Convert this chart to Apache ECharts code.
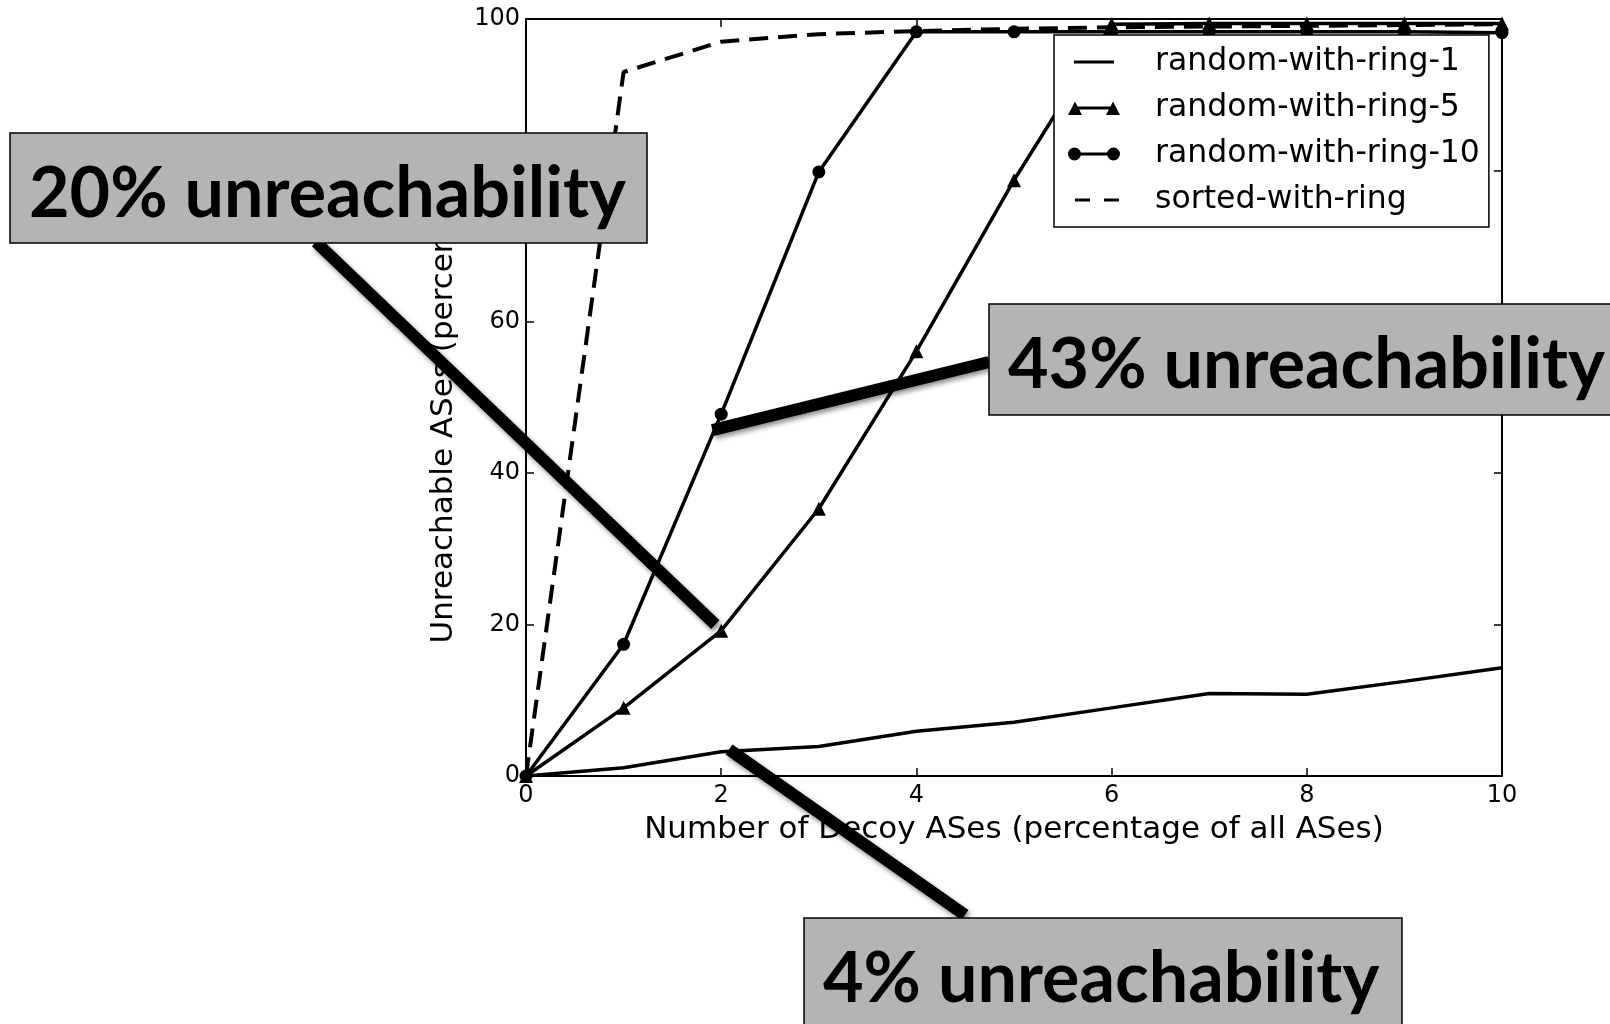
<!DOCTYPE html>
<html style="height: 100%">
<head>
    <meta charset="utf-8">
    <title>Unreachable ASes vs decoy ASes</title>
    <script type="text/javascript" src="https://cdn.jsdelivr.net/npm/echarts@6/dist/echarts.min.js"></script>
</head>
<body style="height: 100%; margin: 0; background: #fff">
    <div id="container" style="width: 1610px; height: 1024px"></div>
    <script type="text/javascript">
        // x: decoy ASes (percentage of all ASes)
        var decoyPct = [0, 1, 2, 3, 4, 5, 6, 7, 8, 9, 10];
        var ring1 = [0, 1.1, 3.2, 3.9, 5.9, 7.1, 9.0, 10.9, 10.8, 12.5, 14.3];
        var ring5 = [0, 9.0, 19.2, 35.3, 56.1, 78.7, 99.3, 99.4, 99.4, 99.4, 99.4];
        var ring10 = [0, 17.4, 47.8, 79.8, 98.3, 98.3, 98.3, 98.3, 98.3, 98.3, 98.2];
        var sortedRing = [0, 93.0, 97.0, 98.0, 98.4, 98.7, 98.9, 99.0, 99.1, 99.2, 99.3];
        var seriesNames = ['random-with-ring-1', 'random-with-ring-5', 'random-with-ring-10', 'sorted-with-ring'];

        // callouts: text, box, start of the pointer (pixels), end of the pointer (data)
        var callouts = [
            { text: '20% unreachability', box: [10, 133, 637, 110], from: [316, 242], to: [1.94, 20.0] },
            { text: '43% unreachability', box: [989, 304, 640, 111], from: [989, 362], to: [1.91, 45.7] },
            { text: '4% unreachability', box: [804, 918, 598, 120], from: [965, 915], to: [2.08, 3.5] }
        ];

        function pairs(ys) {
            return decoyPct.map(function (x, i) { return [x, ys[i]]; });
        }

        var font = '"DejaVu Sans", sans-serif';
        var dom = document.getElementById('container');
        var myChart = echarts.init(dom);

        var frameAxis = {
            axisLine: { show: true, onZero: false, lineStyle: { color: '#000', width: 2 } },
            axisTick: { show: true, inside: true, length: 8, lineStyle: { color: '#000', width: 1.5 } },
            splitLine: { show: false }
        };

        // legend icons, all 52x14 (corner specks keep the box size)
        var box = 'M0,0 L0.01,0 L0,0.01 Z M52,14 L51.99,14 L52,13.99 Z ';
        var icons = [
            'path://' + box + 'M6,5.5 L46,5.5 L46,8.5 L6,8.5 Z',
            'path://' + box + 'M6,5.5 L46,5.5 L46,8.5 L6,8.5 Z M0,14 L7,0.5 L14,14 Z M38,14 L45,0.5 L52,14 Z',
            'path://' + box + 'M6,5.5 L46,5.5 L46,8.5 L6,8.5 Z M0,7 A6.5,6.5 0 1 1 13,7 A6.5,6.5 0 1 1 0,7 Z M39,7 A6.5,6.5 0 1 1 52,7 A6.5,6.5 0 1 1 39,7 Z',
            'path://' + box + 'M7,5.5 L22,5.5 L22,8.5 L7,8.5 Z M36,5.5 L51,5.5 L51,8.5 L36,8.5 Z'
        ];

        var option = {
            animation: false,
            backgroundColor: '#fff',
            grid: { left: 526, right: 108, top: 19, bottom: 248, containLabel: false },
            legend: {
                orient: 'vertical',
                left: 1054,
                top: 35,
                padding: [11, 9, 11, 14],
                itemGap: 14,
                itemWidth: 52,
                itemHeight: 14,
                symbolKeepAspect: false,
                backgroundColor: '#fff',
                borderColor: '#000',
                borderWidth: 1.5,
                borderRadius: 0,
                itemStyle: { borderWidth: 0 },
                formatter: function (name) { return '   ' + name; },
                textStyle: { fontFamily: font, fontSize: 31.5, lineHeight: 31, color: '#000' },
                data: seriesNames.map(function (n, i) { return { name: n, icon: icons[i] }; })
            },
            xAxis: [
                Object.assign({
                    type: 'value', min: 0, max: 10, interval: 2,
                    name: 'Number of Decoy ASes (percentage of all ASes)',
                    nameLocation: 'middle', nameGap: 38,
                    nameTextStyle: { fontFamily: font, fontSize: 31, color: '#000' },
                    axisLabel: { fontFamily: font, fontSize: 24, color: '#000', margin: 8 }
                }, frameAxis),
                Object.assign({
                    type: 'value', min: 0, max: 10, interval: 2, position: 'top',
                    axisLabel: { show: false }
                }, frameAxis)
            ],
            yAxis: [
                Object.assign({
                    type: 'value', min: 0, max: 100, interval: 20,
                    name: 'Unreachable ASes (percentage)',
                    nameLocation: 'middle', nameGap: 67,
                    nameTextStyle: { fontFamily: font, fontSize: 31, color: '#000' },
                    axisLabel: { fontFamily: font, fontSize: 24, color: '#000', margin: 6 }
                }, frameAxis),
                Object.assign({
                    type: 'value', min: 0, max: 100, interval: 20, position: 'right',
                    axisLabel: { show: false }
                }, frameAxis)
            ],
            series: [
                {
                    name: seriesNames[0], type: 'line', data: pairs(ring1),
                    symbol: 'none', lineStyle: { color: '#000', width: 3.5 }, itemStyle: { color: '#000' }
                },
                {
                    name: seriesNames[1], type: 'line', data: pairs(ring5),
                    symbol: 'triangle', symbolSize: 14,
                    lineStyle: { color: '#000', width: 3.5 }, itemStyle: { color: '#000' }
                },
                {
                    name: seriesNames[2], type: 'line', data: pairs(ring10),
                    symbol: 'circle', symbolSize: 13,
                    lineStyle: { color: '#000', width: 3.5 }, itemStyle: { color: '#000' }
                },
                {
                    name: seriesNames[3], type: 'line', data: pairs(sortedRing),
                    symbol: 'none',
                    lineStyle: { color: '#000', width: 4, type: [19, 10] }, itemStyle: { color: '#000' }
                }
            ]
        };
        myChart.setOption(option, true);

        // callout boxes with thick pointers
        var elements = [];
        callouts.forEach(function (c) {
            var end = myChart.convertToPixel({ gridIndex: 0 }, c.to);
            elements.push({
                type: 'line', z: 100,
                shape: { x1: c.from[0], y1: c.from[1], x2: end[0], y2: end[1] },
                style: {
                    stroke: '#000', lineWidth: 12, lineCap: 'butt',
                    shadowColor: 'rgba(0,0,0,0.45)', shadowBlur: 5, shadowOffsetX: 2, shadowOffsetY: 3
                }
            });
        });
        callouts.forEach(function (c) {
            elements.push({
                type: 'rect', z: 101,
                shape: { x: c.box[0], y: c.box[1], width: c.box[2], height: c.box[3] },
                style: { fill: '#b4b4b4', stroke: '#000', lineWidth: 1.5 }
            });
            elements.push({
                type: 'text', z: 102,
                x: c.box[0] + 19, y: c.box[1] + 61,
                style: {
                    text: c.text, fill: '#000',
                    font: 'bold 70px Lato, "Open Sans", sans-serif',
                    verticalAlign: 'middle', align: 'left'
                }
            });
        });
        myChart.setOption({ graphic: { elements: elements } });
    </script>
</body>
</html>
